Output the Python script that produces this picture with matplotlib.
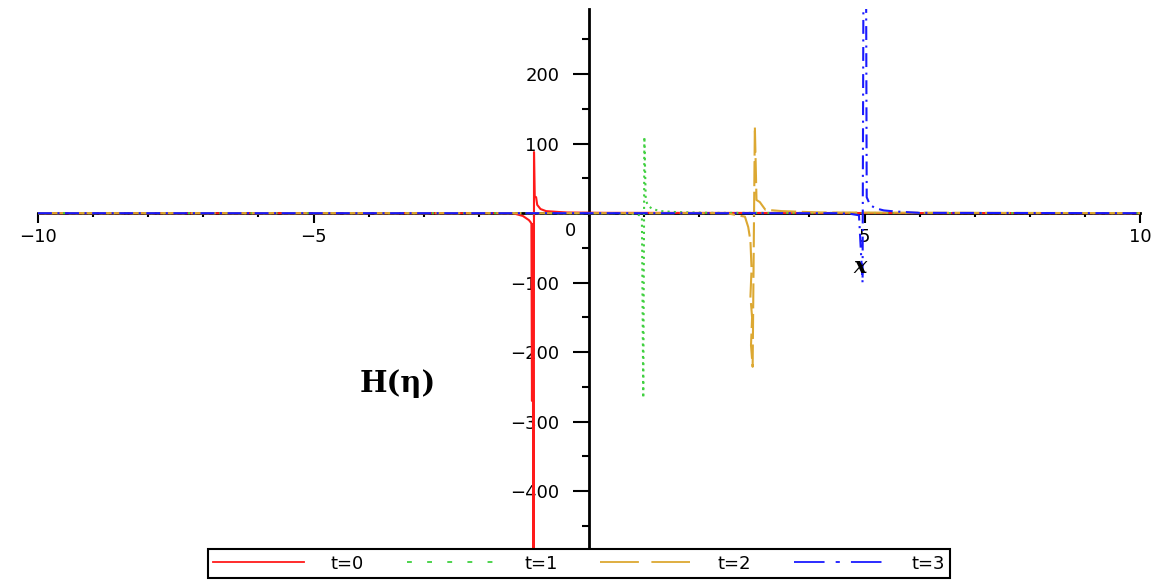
import matplotlib
matplotlib.use("Agg")
import matplotlib.pyplot as plt
from matplotlib.lines import Line2D
from matplotlib.ticker import FixedLocator, MultipleLocator

###############################################################################
#  DATA
###############################################################################
x_t0 = [-10, -2, -1.38, -1.2, -1.09, -1.06, -1.045, -1.035, -1.02, -1.005,
        -0.998, -0.985, -0.96, -0.94, -0.88, -0.78, -0.6, -0.4, 0.3, 10]
y_t0 = [0, 0, 0, -4, -10, -13, -15, -270, -16, -1000,
        88, 24, 23, 12, 6, 3, 2, 1, 0.5, 0]

x_t1 = [-10, 0.5, 0.8, 0.92, 0.96, 0.985, 1.005, 1.03, 1.07, 1.15, 1.3, 1.6, 2.2, 10]
y_t1 = [0, 0, -1, -3, -5, -266, 110, 19, 11, 6, 3, 1.5, 0.5, 0]

x_t2 = [-10, 2.5, 2.83, 2.89, 2.93, 2.95, 2.93, 2.96, 2.94, 2.97,
        3.01, 3.04, 3.1, 3.2, 3.5, 4.2, 10]
y_t2 = [0, 0, -5, -20, -40, -80, -120, -150, -190, -221,
        125, 19, 16, 5, 3, 1, 0]

x_t3 = [-10, 4.5, 4.75, 4.9, 4.965, 5.005, 5.04, 5.1, 5.2, 5.35, 5.55, 6.0, 10]
y_t3 = [0, 0, -1, -3, -100, 1000, 23, 12, 7, 4, 2.5, 0.5, 0]

legend_labels = ["t=0", "t=1", "t=2", "t=3"]

x_major_ticks = [-10, -5, 5, 10]
y_major_ticks = [-400, -300, -200, -100, 100, 200]

###############################################################################
#  STYLE
###############################################################################
plt.rcParams["lines.scale_dashes"] = False
TICK_FONT = {"family": "DejaVu Sans", "size": 13}

COLORS = ["#ff1a1a", "#40d040", "#dca832", "#1a1aff"]
LINE_DASHES = [None, (1.5, 3.0), (18, 4), (10, 4, 1.5, 4)]
LEGEND_DASHES = [None, (3.5, 11), (28, 9), (22, 8, 3, 8)]
LW = 1.5

###############################################################################
#  PLOT
###############################################################################
fig = plt.figure(figsize=(11.57, 5.8), dpi=100)
ax = fig.add_axes([38 / 1157, 30 / 580, 1102 / 1157, 541 / 580])

series = [(x_t0, y_t0), (x_t1, y_t1), (x_t2, y_t2), (x_t3, y_t3)]
for (xs, ys), col, dash in zip(series, COLORS, LINE_DASHES):
    line, = ax.plot(xs, ys, color=col, lw=LW, zorder=3)
    if dash is not None:
        line.set_dashes(dash)

ax.set_xlim(-10, 10)
ax.set_ylim(-484.6, 293.8)

# Maple-style axes through the origin
for side in ("top", "right"):
    ax.spines[side].set_visible(False)
for side in ("left", "bottom"):
    ax.spines[side].set_position(("data", 0))
    ax.spines[side].set_linewidth(2.0)
    ax.spines[side].set_zorder(2.5)

ax.xaxis.set_major_locator(FixedLocator(x_major_ticks))
ax.xaxis.set_minor_locator(MultipleLocator(1))
ax.yaxis.set_major_locator(FixedLocator(y_major_ticks))
ax.yaxis.set_minor_locator(MultipleLocator(50))

ax.tick_params(axis="x", which="major", direction="out", length=7, width=1.5, pad=3.5)
ax.tick_params(axis="x", which="minor", direction="out", length=3, width=1.5)
ax.tick_params(axis="y", which="major", direction="out", length=11.5, width=1.5, pad=10)
ax.tick_params(axis="y", which="minor", direction="out", length=5, width=1.5)
for lab in ax.get_xticklabels() + ax.get_yticklabels():
    lab.set_fontfamily(TICK_FONT["family"])
    lab.set_fontsize(TICK_FONT["size"])

# origin label and axis labels
fig.text(570 / 1157, 1 - 231 / 580, "0", ha="center", va="center", **TICK_FONT)
fig.text(860 / 1157, 1 - 267 / 580, "x", ha="center", va="center",
         family="DejaVu Serif", style="italic", fontweight="bold", fontsize=16)
fig.text(398 / 1157, 1 - 383 / 580, "H(η)", ha="center", va="center",
         family="DejaVu Serif", fontweight="bold", fontsize=21)

# legend below the plot
handles = []
for col, dash in zip(COLORS, LEGEND_DASHES):
    h = Line2D([], [], color=col, lw=1.3)
    if dash is not None:
        h.set_dashes(dash)
    handles.append(h)

leg = fig.legend(handles, legend_labels, loc="lower left", ncol=4, mode="expand",
                 bbox_to_anchor=(208 / 1157, 2 / 580, 742 / 1157, 0.05),
                 bbox_transform=fig.transFigure, borderaxespad=0,
                 fancybox=False, framealpha=1, edgecolor="black",
                 handlelength=5.0, handletextpad=1.5, borderpad=0.3,
                 prop={"family": "DejaVu Sans", "size": 13})
leg.get_frame().set_linewidth(1.5)

fig.savefig("out.png", dpi=100)
